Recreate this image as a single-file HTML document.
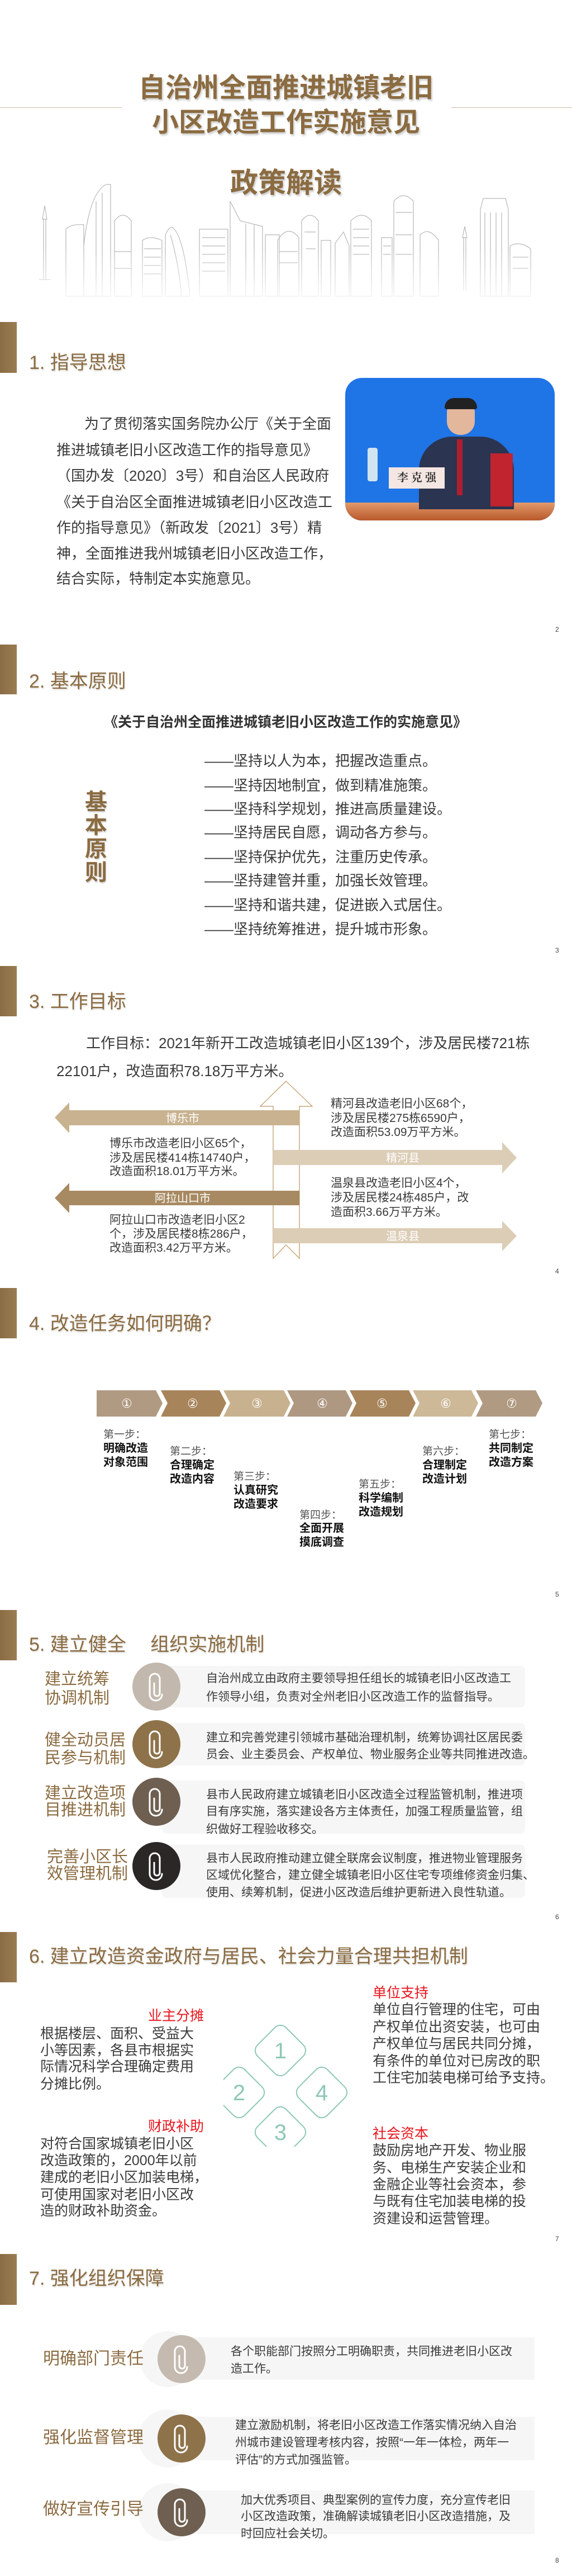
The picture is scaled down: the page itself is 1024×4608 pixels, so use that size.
<!DOCTYPE html>
<html><head><meta charset="utf-8">
<style>
*{margin:0;padding:0;box-sizing:border-box}
body{width:1024px;height:4608px;background:#fff;position:relative;overflow:hidden;font-family:"Liberation Sans","Noto Sans CJK SC",sans-serif;color:#333}
.a{position:absolute;white-space:nowrap;line-height:1}
.bar{position:absolute;left:0;width:30px;background:linear-gradient(90deg,#8a6d45,#9a7c52)}
.h{position:absolute;left:52px;font-size:34px;color:#8b6b40;line-height:1;white-space:nowrap;text-shadow:1px 2px 2px rgba(0,0,0,.15)}
.pn{position:absolute;left:994px;font-size:12px;color:#444;line-height:1}
.p26{font-size:26px;color:#3a3a3a}
.p21{font-size:21px;color:#3a3a3a}
.p25{font-size:25px;color:#3a3a3a}
.red{font-size:25px;color:#e8141c}
.lab{font-size:29px;color:#8b6b40}
.sl{font-size:19px;color:#555}
.sb{font-size:20px;color:#111;font-weight:bold}
</style></head><body>

<!-- COVER -->
<div style="position:absolute;left:0;top:192px;width:218px;height:1px;background:#cbbca9"></div>
<div style="position:absolute;left:808px;top:192px;width:216px;height:1px;background:#cbbca9"></div>
<div class="a" style="left:0;width:1024px;text-align:center;top:134px;font-size:48px;font-weight:bold;color:#8b6b40;text-shadow:2px 3px 3px rgba(0,0,0,.2)">自治州全面推进城镇老旧</div>
<div class="a" style="left:0;width:1024px;text-align:center;top:196px;font-size:48px;font-weight:bold;color:#8b6b40;text-shadow:2px 3px 3px rgba(0,0,0,.2)">小区改造工作实施意见</div>
<div class="a" style="left:0;width:1024px;text-align:center;top:302px;font-size:50px;font-weight:bold;color:#8b6b40;text-shadow:2px 3px 3px rgba(0,0,0,.2)">政策解读</div>

<svg style="position:absolute;left:0;top:320px" width="1024" height="230" viewBox="0 320 1024 230">
<defs><linearGradient id="fd" x1="0" y1="0" x2="0" y2="1"><stop offset="0" stop-color="#fff" stop-opacity="0"/><stop offset=".55" stop-color="#fff" stop-opacity="0"/><stop offset="1" stop-color="#fff" stop-opacity="1"/></linearGradient></defs>
<g fill="none" stroke="#b8b8b8" stroke-width="1.2">
<path d="M80 368 L76 392 L84 392 Z M78 392 V500 M82 392 V500 M70 500 L90 500"/>
<path d="M118 410 Q128 400 150 402 V530 H118 Z"/>
<path d="M150 440 Q160 345 190 330 L198 330 V530 H150"/><path d="M172 360 V530 M183 345 V530"/>
<path d="M205 395 Q220 375 235 395 V530 H205 Z M205 450 H235 M205 480 H235"/>
<path d="M255 430 Q268 420 290 430 V530 H255 Z"/><path d="M258 445 H288 M258 460 H288 M258 475 H288 M258 490 H288"/>
<path d="M296 420 Q305 400 312 410 Q330 430 340 530 H296 Z M305 420 Q320 470 325 530"/>
<path d="M357 410 H408 V530 H357 Z M362 425 H403 M362 440 H403 M362 455 H403 M362 470 H403 M362 485 H403"/>
<path d="M412 360 L430 395 L470 405 V530 H412 Z M440 400 V530 M455 402 V530"/>
<path d="M475 420 H500 V530 H475 Z"/>
<path d="M497 430 Q515 400 535 425 V530 H497 Z M500 450 H533 M500 470 H533"/>
<path d="M540 395 Q555 375 570 395 V530 H540 Z M545 415 H565 M548 445 H565"/>
<path d="M575 430 H592 V530 H575 Z"/>
<path d="M600 435 L615 415 L625 440 V530 H600 Z"/>
<path d="M628 395 Q648 375 665 395 V530 H628 Z M632 410 H661 M632 425 H661 M632 440 H661 M632 455 H661"/>
<path d="M683 425 H702 V530 H683 Z M686 440 H700 M686 455 H700"/>
<path d="M705 360 Q722 340 740 360 V530 H705 Z M708 380 H738 M708 420 H738 M708 455 H738"/>
<path d="M752 420 Q768 405 785 430 V530 H752 Z"/>
<path d="M832 405 L828 425 L836 425 Z M830 425 V520 M834 425 V520"/>
<path d="M860 375 L865 355 H905 L910 375 V530 H860 Z M868 380 V530 M878 380 V530 M888 380 V530 M898 380 V530"/>
<path d="M913 440 Q930 430 950 445 V530 H913 Z M918 460 H946 M918 480 H946"/>
</g>
<rect x="0" y="320" width="1024" height="230" fill="url(#fd)"/>
</svg>

<!-- SECTION 1 -->
<div class="bar" style="top:576px;height:91px"></div>
<div class="h" style="top:632px">1. 指导思想</div>
<div style="position:absolute;left:618px;top:676px;width:375px;height:255px;border-radius:30px;overflow:hidden;background:#1f74e6">
 <div style="position:absolute;left:0;bottom:0;width:375px;height:32px;background:linear-gradient(#e29a6a,#b8582c)"></div>
 <div style="position:absolute;left:132px;top:105px;width:170px;height:130px;border-radius:60px 60px 0 0;background:#2b3450"></div>
 <div style="position:absolute;left:182px;top:38px;width:50px;height:64px;border-radius:24px;background:#e2b79c"></div>
 <div style="position:absolute;left:178px;top:36px;width:58px;height:20px;border-radius:20px 20px 4px 4px;background:#222"></div>
 <div style="position:absolute;left:200px;top:110px;width:10px;height:100px;background:#b01e2e"></div>
 <div style="position:absolute;left:260px;top:135px;width:40px;height:95px;background:#c0242e"></div>
 <div class="a" style="left:78px;top:160px;width:100px;height:38px;background:#f4e6e2;font-family:'Liberation Serif','Noto Serif CJK SC',serif;font-size:20px;font-weight:bold;color:#333;text-align:center;line-height:38px">李 克 强</div>
 <div style="position:absolute;left:40px;top:125px;width:18px;height:60px;border-radius:4px;background:#cfe3f0"></div>
</div>
<div class="a p26" style="left:151px;top:745px">为了贯彻落实国务院办公厅《关于全面</div>
<div class="a p26" style="left:101px;top:792px">推进城镇老旧小区改造工作的指导意见》</div>
<div class="a p26" style="left:101px;top:838px">（国办发〔2020〕3号）和自治区人民政府</div>
<div class="a p26" style="left:101px;top:885px">《关于自治区全面推进城镇老旧小区改造工</div>
<div class="a p26" style="left:101px;top:931px">作的指导意见》（新政发〔2021〕3号）精</div>
<div class="a p26" style="left:101px;top:977px">神，全面推进我州城镇老旧小区改造工作，</div>
<div class="a p26" style="left:101px;top:1022px">结合实际，特制定本实施意见。</div>
<div class="pn" style="top:1120px">2</div>

<!-- SECTION 2 -->
<div class="bar" style="top:1153px;height:89px"></div>
<div class="h" style="top:1202px">2. 基本原则</div>
<div class="a" style="left:186px;top:1280px;font-size:25px;font-weight:bold;color:#333">《关于自治州全面推进城镇老旧小区改造工作的实施意见》</div>
<div class="a" style="left:152px;top:1414px;font-size:40px;line-height:42px;font-weight:bold;color:#8b6b40;white-space:normal;width:42px;text-shadow:1px 2px 2px rgba(0,0,0,.2)">基本原则</div>
<div class="a p26" style="left:366px;top:1348px">——坚持以人为本，把握改造重点。</div>
<div class="a p26" style="left:366px;top:1392px">——坚持因地制宜，做到精准施策。</div>
<div class="a p26" style="left:366px;top:1434px">——坚持科学规划，推进高质量建设。</div>
<div class="a p26" style="left:366px;top:1476px">——坚持居民自愿，调动各方参与。</div>
<div class="a p26" style="left:366px;top:1520px">——坚持保护优先，注重历史传承。</div>
<div class="a p26" style="left:366px;top:1562px">——坚持建管并重，加强长效管理。</div>
<div class="a p26" style="left:366px;top:1606px">——坚持和谐共建，促进嵌入式居住。</div>
<div class="a p26" style="left:366px;top:1649px">——坚持统筹推进，提升城市形象。</div>
<div class="pn" style="top:1694px">3</div>

<!-- SECTION 3 -->
<div class="bar" style="top:1728px;height:90px"></div>
<div class="h" style="top:1775px">3. 工作目标</div>
<div class="a p26" style="left:154px;top:1853px">工作目标：2021年新开工改造城镇老旧小区139个，涉及居民楼721栋</div>
<div class="a p26" style="left:101px;top:1903px">22101户，改造面积78.18万平方米。</div>
<svg style="position:absolute;left:0;top:1920px" width="1024" height="340" viewBox="0 1920 1024 340">
<path d="M512 1934 L559 1979 L536 1979 L536 2251 L512 2227 L489 2251 L489 1979 L466 1979 Z" fill="#fff" stroke="#c9a97e" stroke-width="1.5"/>
<polygon points="98,1999 124,1972 124,1986 536,1986 536,2013 124,2013 124,2027" fill="#c8b28f"/>
<polygon points="925,2071 899,2043 899,2057 489,2057 489,2084 899,2084 899,2099" fill="#dccdb6"/>
<polygon points="98,2143 124,2116 124,2130 536,2130 536,2156 124,2156 124,2170" fill="#a88a62"/>
<polygon points="925,2211 899,2184 899,2197 489,2197 489,2224 899,2224 899,2238" fill="#dccdb6"/>
<text x="327" y="2007" font-size="20" fill="#fff" text-anchor="middle" font-family="Liberation Sans,Noto Sans CJK SC,sans-serif">博乐市</text>
<text x="721" y="2078" font-size="20" fill="#fff" text-anchor="middle" font-family="Liberation Sans,Noto Sans CJK SC,sans-serif">精河县</text>
<text x="327" y="2150" font-size="20" fill="#fff" text-anchor="middle" font-family="Liberation Sans,Noto Sans CJK SC,sans-serif">阿拉山口市</text>
<text x="721" y="2218" font-size="20" fill="#fff" text-anchor="middle" font-family="Liberation Sans,Noto Sans CJK SC,sans-serif">温泉县</text>
</svg>
<div class="a p21" style="left:592px;top:1964px">精河县改造老旧小区68个，</div>
<div class="a p21" style="left:592px;top:1990px">涉及居民楼275栋6590户，</div>
<div class="a p21" style="left:592px;top:2015px">改造面积53.09万平方米。</div>
<div class="a p21" style="left:196px;top:2035px">博乐市改造老旧小区65个，</div>
<div class="a p21" style="left:196px;top:2061px">涉及居民楼414栋14740户，</div>
<div class="a p21" style="left:196px;top:2085px">改造面积18.01万平方米。</div>
<div class="a p21" style="left:592px;top:2106px">温泉县改造老旧小区4个，</div>
<div class="a p21" style="left:592px;top:2132px">涉及居民楼24栋485户，改</div>
<div class="a p21" style="left:592px;top:2158px">造面积3.66万平方米。</div>
<div class="a p21" style="left:196px;top:2172px">阿拉山口市改造老旧小区2</div>
<div class="a p21" style="left:196px;top:2197px">个，涉及居民楼8栋286户，</div>
<div class="a p21" style="left:196px;top:2222px">改造面积3.42万平方米。</div>
<div class="pn" style="top:2268px">4</div>

<!-- SECTION 4 -->
<div class="bar" style="top:2304px;height:90px"></div>
<div class="h" style="top:2351px">4. 改造任务如何明确？</div>
<svg style="position:absolute;left:0;top:2480px" width="1024" height="60" viewBox="0 2480 1024 60">
<g font-family="Liberation Sans,DejaVu Sans,sans-serif" font-size="22" fill="#fff" text-anchor="middle">
<polygon points="173,2487 279,2487 291,2510 279,2534 173,2534" fill="#b09a82"/>
<polygon points="288,2487 393,2487 405,2510 393,2534 288,2534 300,2510" fill="#a8845a"/>
<polygon points="400,2487 508,2487 520,2510 508,2534 400,2534 412,2510" fill="#c8b18f"/>
<polygon points="514,2487 619,2487 631,2510 619,2534 514,2534 526,2510" fill="#ae9882"/>
<polygon points="626,2487 732,2487 744,2510 732,2534 626,2534 638,2510" fill="#a8845a"/>
<polygon points="739,2487 844,2487 856,2510 844,2534 739,2534 751,2510" fill="#cdb898"/>
<polygon points="852,2487 959,2487 971,2510 959,2534 852,2534 864,2510" fill="#b09a82"/>
<text x="227" y="2518">①</text><text x="345" y="2518">②</text><text x="460" y="2518">③</text><text x="577" y="2518">④</text><text x="684" y="2518">⑤</text><text x="798" y="2518">⑥</text><text x="916" y="2518">⑦</text>
</g></svg>
<div class="a sl" style="left:185px;top:2557px">第一步：</div><div class="a sb" style="left:185px;top:2581px">明确改造</div><div class="a sb" style="left:185px;top:2606px">对象范围</div>
<div class="a sl" style="left:304px;top:2587px">第二步：</div><div class="a sb" style="left:304px;top:2611px">合理确定</div><div class="a sb" style="left:304px;top:2636px">改造内容</div>
<div class="a sl" style="left:418px;top:2632px">第三步：</div><div class="a sb" style="left:418px;top:2656px">认真研究</div><div class="a sb" style="left:418px;top:2681px">改造要求</div>
<div class="a sl" style="left:536px;top:2701px">第四步：</div><div class="a sb" style="left:536px;top:2724px">全面开展</div><div class="a sb" style="left:536px;top:2749px">摸底调查</div>
<div class="a sl" style="left:642px;top:2646px">第五步：</div><div class="a sb" style="left:642px;top:2670px">科学编制</div><div class="a sb" style="left:642px;top:2695px">改造规划</div>
<div class="a sl" style="left:756px;top:2587px">第六步：</div><div class="a sb" style="left:756px;top:2611px">合理制定</div><div class="a sb" style="left:756px;top:2636px">改造计划</div>
<div class="a sl" style="left:875px;top:2557px">第七步：</div><div class="a sb" style="left:875px;top:2581px">共同制定</div><div class="a sb" style="left:875px;top:2606px">改造方案</div>
<div class="pn" style="top:2846px">5</div>

<!-- SECTION 5 -->
<div class="bar" style="top:2880px;height:90px"></div>
<div class="h" style="top:2925px">5. 建立健全　 组织实施机制</div>
<svg style="position:absolute;left:0;top:2960px" width="1024" height="440" viewBox="0 2960 1024 440">
<defs><g id="clip"><path d="M-4 -6 V12 A5 5 0 0 0 6 12 V-14 A9 9 0 0 0 -12 -14 V14 A11 11 0 0 0 10 14" fill="none" stroke="#fff" stroke-width="3" stroke-linecap="round"/></g></defs>
<g fill="#f6f6f6">
<rect x="290" y="2980" width="650" height="74" rx="8"/>
<rect x="290" y="3082" width="650" height="76" rx="8"/>
<rect x="290" y="3185" width="650" height="95" rx="8"/>
<rect x="290" y="3300" width="650" height="95" rx="8"/>
</g>
<circle cx="280" cy="3017" r="43" fill="#c2b8ad"/><use href="#clip" transform="translate(280,3017)"/>
<circle cx="280" cy="3120" r="43" fill="#8e7249"/><use href="#clip" transform="translate(280,3120)"/>
<circle cx="280" cy="3223" r="43" fill="#6e5f51"/><use href="#clip" transform="translate(280,3223)"/>
<circle cx="280" cy="3338" r="43" fill="#2b2727"/><use href="#clip" transform="translate(280,3338)"/>
</svg>
<div class="a lab" style="left:80px;top:2990px">建立统筹</div><div class="a lab" style="left:80px;top:3024px">协调机制</div>
<div class="a lab" style="left:80px;top:3099px">健全动员居</div><div class="a lab" style="left:80px;top:3131px">民参与机制</div>
<div class="a lab" style="left:80px;top:3194px">建立改造项</div><div class="a lab" style="left:80px;top:3224px">目推进机制</div>
<div class="a lab" style="left:84px;top:3308px">完善小区长</div><div class="a lab" style="left:84px;top:3338px">效管理机制</div>
<div class="a p21" style="left:369px;top:2992px">自治州成立由政府主要领导担任组长的城镇老旧小区改造工</div>
<div class="a p21" style="left:369px;top:3025px">作领导小组，负责对全州老旧小区改造工作的监督指导。</div>
<div class="a p21" style="left:369px;top:3098px">建立和完善党建引领城市基础治理机制，统筹协调社区居民委</div>
<div class="a p21" style="left:369px;top:3128px">员会、业主委员会、产权单位、物业服务企业等共同推进改造。</div>
<div class="a p21" style="left:369px;top:3200px">县市人民政府建立城镇老旧小区改造全过程监管机制，推进项</div>
<div class="a p21" style="left:369px;top:3230px">目有序实施，落实建设各方主体责任，加强工程质量监管，组</div>
<div class="a p21" style="left:369px;top:3262px">织做好工程验收移交。</div>
<div class="a p21" style="left:369px;top:3314px">县市人民政府推动建立健全联席会议制度，推进物业管理服务</div>
<div class="a p21" style="left:369px;top:3344px">区域优化整合，建立健全城镇老旧小区住宅专项维修资金归集、</div>
<div class="a p21" style="left:369px;top:3375px">使用、续筹机制，促进小区改造后维护更新进入良性轨道。</div>
<div class="pn" style="top:3423px">6</div>

<!-- SECTION 6 -->
<div class="bar" style="top:3456px;height:90px"></div>
<div class="h" style="top:3483px">6. 建立改造资金政府与居民、社会力量合理共担机制</div>
<svg style="position:absolute;left:400px;top:3600px" width="230" height="240" viewBox="400 3600 230 240">
<g fill="none" stroke="#8ec8b6" stroke-width="2">
<rect x="466" y="3632" width="72" height="72" rx="14" transform="rotate(45 502 3668)"/>
<rect x="392" y="3707" width="72" height="72" rx="14" transform="rotate(45 428 3743)"/>
<rect x="540" y="3707" width="72" height="72" rx="14" transform="rotate(45 576 3743)"/>
<rect x="466" y="3778" width="72" height="72" rx="14" transform="rotate(45 502 3814)"/>
</g>
<g fill="#8ec8b6" font-size="40" text-anchor="middle" font-family="Liberation Sans,sans-serif">
<text x="502" y="3682">1</text><text x="428" y="3757">2</text><text x="576" y="3757">4</text><text x="502" y="3828">3</text>
</g></svg>
<div class="a red" style="left:265px;top:3594px">业主分摊</div>
<div class="a p25" style="left:72px;top:3626px">根据楼层、面积、受益大</div>
<div class="a p25" style="left:72px;top:3656px">小等因素，各县市根据实</div>
<div class="a p25" style="left:72px;top:3685px">际情况科学合理确定费用</div>
<div class="a p25" style="left:72px;top:3716px">分摊比例。</div>
<div class="a red" style="left:265px;top:3792px">财政补助</div>
<div class="a p25" style="left:72px;top:3823px">对符合国家城镇老旧小区</div>
<div class="a p25" style="left:72px;top:3853px">改造政策的，2000年以前</div>
<div class="a p25" style="left:72px;top:3883px">建成的老旧小区加装电梯，</div>
<div class="a p25" style="left:72px;top:3914px">可使用国家对老旧小区改</div>
<div class="a p25" style="left:72px;top:3943px">造的财政补助资金。</div>
<div class="a red" style="left:667px;top:3553px">单位支持</div>
<div class="a p25" style="left:667px;top:3583px">单位自行管理的住宅，可由</div>
<div class="a p25" style="left:667px;top:3614px">产权单位出资安装，也可由</div>
<div class="a p25" style="left:667px;top:3644px">产权单位与居民共同分摊，</div>
<div class="a p25" style="left:667px;top:3675px">有条件的单位对已房改的职</div>
<div class="a p25" style="left:667px;top:3705px">工住宅加装电梯可给予支持。</div>
<div class="a red" style="left:667px;top:3805px">社会资本</div>
<div class="a p25" style="left:667px;top:3835px">鼓励房地产开发、物业服</div>
<div class="a p25" style="left:667px;top:3866px">务、电梯生产安装企业和</div>
<div class="a p25" style="left:667px;top:3896px">金融企业等社会资本，参</div>
<div class="a p25" style="left:667px;top:3926px">与既有住宅加装电梯的投</div>
<div class="a p25" style="left:667px;top:3957px">资建设和运营管理。</div>
<div class="pn" style="top:3999px">7</div>

<!-- SECTION 7 -->
<div class="bar" style="top:4032px;height:91px"></div>
<div class="h" style="top:4059px">7. 强化组织保障</div>
<svg style="position:absolute;left:0;top:4160px" width="1024" height="400" viewBox="0 4160 1024 400">
<defs><g id="clip2"><path d="M-4 -6 V12 A5 5 0 0 0 6 12 V-14 A9 9 0 0 0 -12 -14 V14 A11 11 0 0 0 10 14" fill="none" stroke="#fff" stroke-width="3" stroke-linecap="round"/></g></defs>
<g fill="#f6f6f6">
<circle cx="300" cy="4220" r="50"/><rect x="320" y="4181" width="637" height="76"/>
<circle cx="300" cy="4362" r="52"/><rect x="320" y="4323" width="637" height="78"/>
<circle cx="300" cy="4494" r="52"/><rect x="320" y="4455" width="637" height="78"/>
</g>
<circle cx="325" cy="4220" r="43" fill="#c5bab0"/><use href="#clip2" transform="translate(325,4220)"/>
<circle cx="325" cy="4362" r="43" fill="#8e7249"/><use href="#clip2" transform="translate(325,4362)"/>
<circle cx="325" cy="4494" r="43" fill="#6e5f50"/><use href="#clip2" transform="translate(325,4494)"/>
</svg>
<div class="a" style="left:77px;top:4205px;font-size:30px;color:#8b6b40">明确部门责任</div>
<div class="a" style="left:77px;top:4346px;font-size:30px;color:#8b6b40">强化监督管理</div>
<div class="a" style="left:77px;top:4474px;font-size:30px;color:#8b6b40">做好宣传引导</div>
<div class="a p21" style="left:413px;top:4196px">各个职能部门按照分工明确职责，共同推进老旧小区改</div>
<div class="a p21" style="left:413px;top:4227px">造工作。</div>
<div class="a p21" style="left:421px;top:4328px">建立激励机制，将老旧小区改造工作落实情况纳入自治</div>
<div class="a p21" style="left:421px;top:4359px">州城市建设管理考核内容，按照“一年一体检，两年一</div>
<div class="a p21" style="left:421px;top:4390px">评估”的方式加强监管。</div>
<div class="a p21" style="left:431px;top:4462px">加大优秀项目、典型案例的宣传力度，充分宣传老旧</div>
<div class="a p21" style="left:431px;top:4491px">小区改造政策，准确解读城镇老旧小区改造措施，及</div>
<div class="a p21" style="left:431px;top:4522px">时回应社会关切。</div>
<div class="pn" style="top:4574px">8</div>
</body></html>
